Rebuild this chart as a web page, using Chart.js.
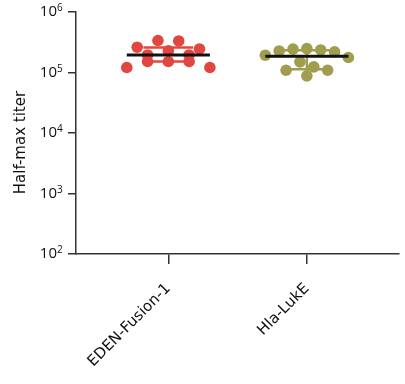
<!DOCTYPE html>
<html>
<head>
<meta charset="utf-8">
<script src="https://cdn.jsdelivr.net/npm/chart.js@4.4.0/dist/chart.umd.min.js"></script>
<style>
  html, body { margin: 0; padding: 0; background: #fff; }
  #wrap { width: 405px; height: 384px; }
</style>
</head>
<body>
<div id="wrap"><canvas id="chart"></canvas></div>
<script>
// values
const groups = ['EDEN-Fusion-1', 'Hla-LukE'];
const edenFusion = [338000, 332000, 262000, 245000, 228000, 195000, 195000, 152000, 152000, 152000, 121000, 121000];
const hlaLukE = [249000, 243000, 236000, 227000, 219000, 193000, 177000, 150000, 124000, 109000, 109000, 88000];
const yTicks = [1e2, 1e3, 1e4, 1e5, 1e6];

const colors = ['#e2473f', '#a09e4e'];
const FONT = '"DejaVu Sans", sans-serif';
const TICK_FONT = '"Open Sans", sans-serif';

// prism style percentile, (n+1)p
function quantile(vals, p) {
  const s = [...vals].sort((a, b) => a - b);
  const pos = (s.length + 1) * p;
  const lo = Math.min(Math.max(Math.floor(pos), 1), s.length);
  const hi = Math.min(lo + 1, s.length);
  const f = pos - Math.floor(pos);
  return s[lo - 1] + f * (s[hi - 1] - s[lo - 1]);
}

// rows of similar values, spread centre-out, widest row fills halfWidth
function swarm(vals, center, halfWidth, rowSize) {
  const sorted = [...vals].sort((a, b) => b - a);
  const rows = [];
  sorted.forEach(v => {
    const row = rows[rows.length - 1];
    if (row && Math.log10(row[0]) - Math.log10(v) <= rowSize) row.push(v);
    else rows.push([v]);
  });
  const widest = Math.max(...rows.map(r => r.length));
  const step = widest > 1 ? 2 * halfWidth / (widest - 1) : 0;
  const pts = [];
  rows.forEach(row => {
    const slots = row.map((_, i) => i - (row.length - 1) / 2);
    slots.sort((a, b) => Math.abs(a) - Math.abs(b) || a - b);
    row.forEach((v, i) => pts.push({ x: center + slots[i] * step, y: v }));
  });
  return pts;
}

const series = [edenFusion, hlaLukE];
const lineSets = [];
const dotSets = [];
series.forEach((vals, i) => {
  const c = i + 1;
  const med = quantile(vals, 0.5);
  const q1 = quantile(vals, 0.25);
  const q3 = quantile(vals, 0.75);
  const cw = 0.18;
  lineSets.push({
    data: [{ x: c - 0.3, y: med }, { x: c + 0.3, y: med }],
    showLine: true, borderColor: '#111', borderWidth: 3, pointRadius: 0, borderCapStyle: 'butt'
  });
  lineSets.push({
    data: [
      { x: c - cw, y: q3 }, { x: c + cw, y: q3 }, { x: c, y: null },
      { x: c, y: q3 }, { x: c, y: q1 }, { x: c, y: null },
      { x: c - cw, y: q1 }, { x: c + cw, y: q1 }
    ],
    showLine: true, spanGaps: false, borderColor: colors[i], borderWidth: 2.5, pointRadius: 0
  });
  dotSets.push({
    data: swarm(vals, c, 0.3, 0.16),
    pointRadius: 5.8, pointBackgroundColor: colors[i], pointBorderWidth: 0, borderColor: colors[i]
  });
});

const exponents = {
  id: 'exponents',
  afterDraw(chart) {
    const y = chart.scales.y;
    const ctx = chart.ctx;
    ctx.save();
    ctx.font = '10px ' + TICK_FONT;
    ctx.fillStyle = '#111';
    ctx.textAlign = 'left';
    ctx.textBaseline = 'alphabetic';
    y.ticks.forEach(t => {
      const py = y.getPixelForValue(t.value);
      ctx.fillText(String(Math.round(Math.log10(t.value))), y.right - 19, py - 1);
    });
    ctx.restore();
  }
};

new Chart(document.getElementById('chart'), {
  type: 'scatter',
  data: { datasets: [...lineSets, ...dotSets] },
  options: {
    responsive: true,
    maintainAspectRatio: false,
    animation: false,
    layout: { padding: { top: 12, right: 1 } },
    plugins: { legend: { display: false }, tooltip: { enabled: false } },
    scales: {
      x: {
        type: 'linear', min: 1 / 3, max: 8 / 3,
        afterBuildTicks: s => { s.ticks = groups.map((g, i) => ({ value: i + 1 })); },
        afterFit: s => { s.height = 130; },
        ticks: {
          callback: v => groups[v - 1],
          minRotation: 45, maxRotation: 45, autoSkip: false,
          font: { family: FONT, size: 15 }, color: '#111', padding: 16
        },
        grid: { drawOnChartArea: false, tickLength: 10, color: '#333', lineWidth: 1.5 },
        border: { color: '#333', width: 1.5 }
      },
      y: {
        type: 'logarithmic', min: 100, max: 1e6,
        afterBuildTicks: s => { s.ticks = yTicks.map(v => ({ value: v })); },
        afterFit: s => { s.width = 76; s.paddingTop = 0; s.paddingBottom = 0; },
        ticks: { callback: () => '10', font: { family: TICK_FONT, size: 15 }, color: '#111', padding: 11 },
        grid: { drawOnChartArea: false, tickLength: 8, color: '#333', lineWidth: 1.5 },
        border: { color: '#333', width: 1.5 },
        title: { display: true, text: 'Half-max titer    ', font: { family: FONT, size: 15 }, color: '#111', padding: { top: 12 } }
      }
    }
  },
  plugins: [exponents]
});
</script>
</body>
</html>
